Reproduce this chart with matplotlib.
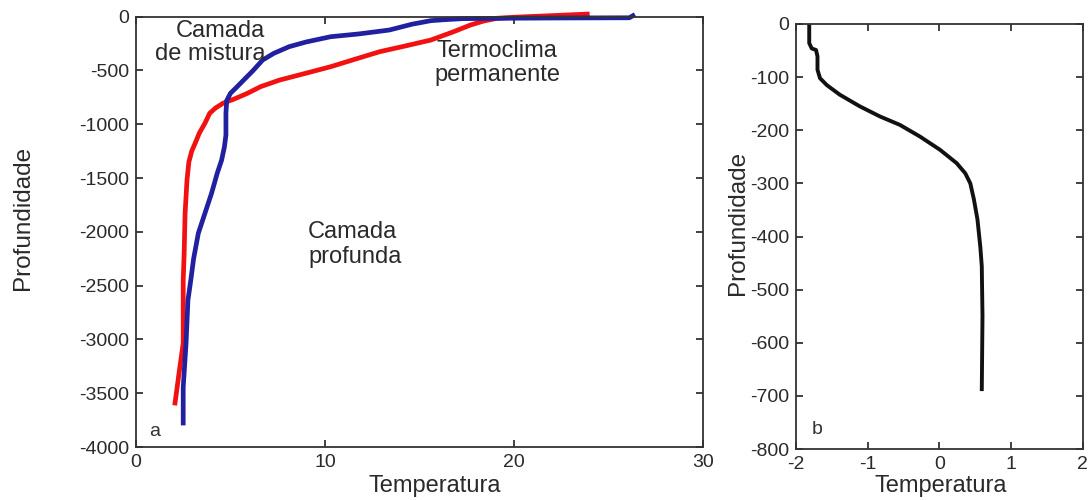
import matplotlib
matplotlib.use("Agg")
import matplotlib.pyplot as plt

#%% dados
# painel a: perfil vermelho
temp_red = [24.0, 22.0, 20.0, 19.1, 18.4, 17.7, 16.8, 15.6, 14.3, 12.9, 11.5,
            10.3, 9.0, 7.6, 6.6, 5.9, 5.2, 4.6, 4.2, 3.9, 3.65, 3.35, 3.2,
            2.95, 2.8, 2.7, 2.6, 2.55, 2.5, 2.5, 2.3, 2.05]
prof_red = [25, 10, -5, -15, -40, -77, -140, -217, -270, -325, -400,
            -465, -525, -589, -650, -712, -765, -805, -850, -898, -990, -1083,
            -1148, -1250, -1350, -1520, -1827, -2200, -2450, -3036, -3287, -3613]
# painel a: perfil azul
temp_blue = [26.4, 26.1, 22.0, 19.9, 17.3, 16.3, 15.6, 14.6, 13.4, 11.8, 10.3,
             9.0, 8.1, 7.3, 6.7, 6.2, 5.7, 5.3, 5.0, 4.8, 4.76, 4.76, 4.68,
             4.53, 4.3, 4.0, 3.65, 3.3, 3.05, 2.9, 2.75, 2.65, 2.5, 2.5]
prof_blue = [20, -10, -12, -14, -18, -28, -37, -70, -124, -160, -186,
             -235, -279, -340, -403, -500, -589, -660, -712, -780, -898, -1100,
             -1210, -1334, -1455, -1641, -1827, -2013, -2250, -2450, -2636,
             -3036, -3445, -3799]
# painel b: perfil preto
temp_b = [-1.815, -1.815, -1.78, -1.72, -1.70, -1.70, -1.665, -1.57, -1.39,
          -1.11, -0.83, -0.55, -0.27, 0.01, 0.24, 0.36, 0.43, 0.48, 0.53,
          0.57, 0.59, 0.60, 0.59]
prof_b = [0, -36, -46, -49, -61, -86, -102, -115, -133, -155, -174, -190,
          -212, -237, -262, -281, -300, -330, -368, -420, -456, -550, -691]

plt.rcParams['font.family'] = ['Liberation Sans', 'DejaVu Sans']
plt.rcParams['axes.unicode_minus'] = False

fig = plt.figure(figsize=(10.92, 5.0), dpi=100)
axa = fig.add_axes([0.1245, 0.106, 0.5193, 0.8606])
axb = fig.add_axes([0.7289, 0.102, 0.2628, 0.850])

axa.plot(temp_red, prof_red, color='#f21010', lw=3.4, clip_on=False,
         solid_capstyle='butt', solid_joinstyle='round')
axa.plot(temp_blue, prof_blue, color='#2020a0', lw=3.4, clip_on=False,
         solid_capstyle='butt', solid_joinstyle='round')
axb.plot(temp_b, prof_b, color='#111111', lw=2.8, clip_on=False,
         solid_capstyle='butt', solid_joinstyle='round')

axa.set_xlim(0, 30)
axa.set_ylim(-4000, 0)
axa.set_xticks([0, 10, 20, 30])
axa.set_yticks(range(-4000, 1, 500))
axb.set_xlim(-2, 2)
axb.set_ylim(-800, 0)
axb.set_xticks([-2, -1, 0, 1, 2])
axb.set_yticks(range(-800, 1, 100))

for ax in (axa, axb):
    ax.tick_params(direction='in', top=True, right=True, length=5, width=1.3,
                   labelsize=14, color='#333333', labelcolor='#2a2a2a', pad=5)
    for s in ax.spines.values():
        s.set_linewidth(1.3)
        s.set_color('#333333')
    ax.set_xlabel('Temperatura', fontsize=17, color='#2a2a2a')
    ax.set_ylabel('Profundidade', fontsize=17.5, color='#2a2a2a')

axa.yaxis.set_label_coords(-0.180, 0.533)
axa.xaxis.set_label_coords(0.527, -0.064)
axb.yaxis.set_label_coords(-0.162, 0.533)
axb.xaxis.set_label_coords(0.505, -0.062)

# anotações
axa.text(6.85, -30, 'Camada\nde mistura', ha='right', va='top',
         multialignment='right', fontsize=17, color='#2a2a2a', linespacing=1.05)
axa.text(19.1, -215, 'Termoclima\npermanente', ha='center', va='top',
         fontsize=17, color='#2a2a2a', linespacing=1.15)
axa.text(9.1, -1900, 'Camada\nprofunda', ha='left', va='top',
         fontsize=17, color='#2a2a2a', linespacing=1.15)
axa.text(1.0, -3860, 'a', ha='center', va='center', fontsize=14, color='#333333')
axb.text(-1.7, -763, 'b', ha='center', va='center', fontsize=14, color='#333333')

fig.savefig('out.png', dpi=100)
